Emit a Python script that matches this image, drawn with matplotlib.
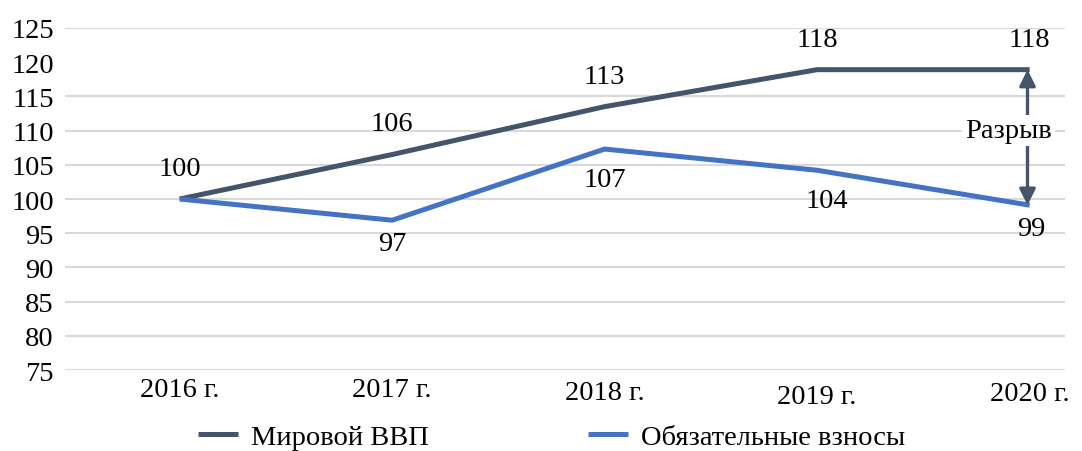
import matplotlib
matplotlib.use("Agg")
import matplotlib.pyplot as plt
import matplotlib.transforms as mtransforms

plt.rcParams['font.family'] = ['Liberation Serif', 'DejaVu Serif']

years = ["2016 г.", "2017 г.", "2018 г.", "2019 г.", "2020 г."]
gdp = [100, 106.5, 113.5, 118.9, 118.9]
gdp_labels = ["100", "106", "113", "118", "118"]
fees = [100, 96.9, 107.3, 104.2, 99.1]
fees_labels = ["100", "97", "107", "104", "99"]

dark = "#44546A"
blue = "#4472C4"

fig = plt.figure(figsize=(10.82, 4.52), dpi=100)
ax = fig.add_axes([0.060, 0.179, 0.924, 0.757])

x = list(range(len(years)))
ax.plot(x, gdp, color=dark, lw=3.6, label="Мировой ВВП", solid_capstyle='butt')
ax.plot(x, fees, color=blue, lw=3.6, label="Обязательные взносы", solid_capstyle='butt')

fs = 20.5
for i, (v, t) in enumerate(zip(gdp, gdp_labels)):
    ax.annotate(t, (i, v), xytext=(0, 22), textcoords='offset points',
                ha='center', va='center', fontsize=fs)

# labels under the blue line (2016 label is shared with the dark line)
fee_dx = [0, 0, 0, 7, 1]
fee_dy = [0, -17, -22, -22, -17]
for i, (v, t) in enumerate(zip(fees, fees_labels)):
    if i == 0:
        continue
    ax.annotate(t, (i, v), xytext=(fee_dx[i], fee_dy[i]), textcoords='offset points',
                ha='center', va='center', fontsize=fs)

# gap arrow
ax.annotate("", xy=(3.99, gdp[4]), xytext=(3.99, fees[4]),
            arrowprops=dict(arrowstyle='<|-|>', color=dark, lw=2.4, mutation_scale=24,
                            shrinkA=0, shrinkB=0))
ax.text(3.9, 110, "Разрыв", ha='center', va='center', fontsize=fs,
        bbox=dict(facecolor='white', edgecolor='none', pad=2))

ax.set_xlim(-0.54, 4.165)
ax.set_ylim(75, 125)
ax.set_yticks(range(75, 126, 5))
ax.set_xticks(x)
ax.set_xticklabels(years)
ax.tick_params(axis='both', length=0, labelsize=fs)
ax.tick_params(axis='x', pad=5)
ax.tick_params(axis='y', pad=8)

offsets = [0, 0, -3, -7, -4]
for lbl, dy in zip(ax.get_xticklabels(), offsets):
    lbl.set_transform(lbl.get_transform() + mtransforms.ScaledTranslation(0, dy / 100, fig.dpi_scale_trans))

ax.grid(axis='y', color='#d9d9d9', lw=1.5)
ax.set_axisbelow(True)
ax.yaxis.get_gridlines()[9].set_visible(False)
for s in ax.spines.values():
    s.set_visible(False)

fig.legend(loc='center', bbox_to_anchor=(0.51, 0.031), ncol=2, frameon=False,
           fontsize=fs, handlelength=1.4, handletextpad=0.45, columnspacing=5.6)

fig.savefig("out.png", dpi=100)
